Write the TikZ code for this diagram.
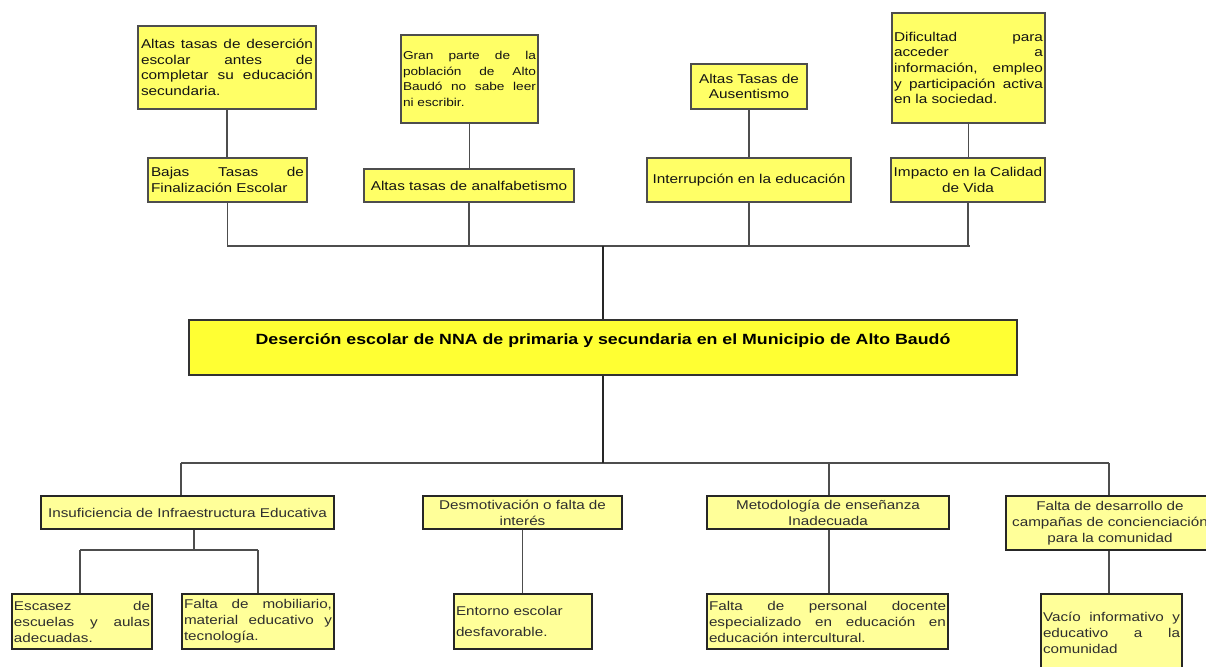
\documentclass[tikz,border=0pt]{standalone}
\usepackage{fontspec}
\setmainfont{Liberation Sans}[FakeStretch=1.2]
\usetikzlibrary{shadows}
\definecolor{topY}{HTML}{FFFF66}
\definecolor{botY}{HTML}{FFFF99}
\definecolor{mainY}{HTML}{FFFF33}
\definecolor{lineG}{HTML}{4D4D4D}
\definecolor{txtT}{HTML}{141414}
\definecolor{txtB}{HTML}{2E2E2E}
\newcommand{\jl}[1]{\makebox[\linewidth][s]{\spaceskip=0.28em plus 1fil\relax #1}}
\tikzset{
  basebox/.style={rectangle, draw=lineG, line width=1.3bp, inner xsep=3bp, inner ysep=0bp,
    drop shadow={shadow xshift=1.3bp, shadow yshift=-1.3bp, fill=black, opacity=0.22}},
  topbox/.style={basebox, fill=topY, text=txtT, font=\fontsize{12.8bp}{15.7bp}\selectfont},
  botbox/.style={basebox, draw=black!85, fill=botY, text=txtB, font=\fontsize{12.7bp}{16bp}\selectfont},
  mainbox/.style={basebox, draw=black!80, line width=1.4bp, fill=mainY, text=black, font=\fontsize{14.8bp}{17bp}\selectfont\bfseries},
  conn/.style={draw=lineG, line width=1.5bp},
}
\begin{document}
\begin{tikzpicture}[x=1bp,y=-1bp]
\fill[white] (0,0) rectangle (1206,667);
\useasboundingbox (0,0) rectangle (1206,667);

% ---------- top boxes ----------
\node[topbox, text width=172bp, minimum height=83bp, align=left] (t1) at (227,67.5)
  {\jl{Altas tasas de deserción}\\\jl{escolar antes de}\\\jl{completar su educación}\\secundaria.};
\node[topbox, text width=133bp, minimum height=88bp, align=left, inner xsep=2bp,
  font=\fontsize{11.4bp}{15.7bp}\selectfont] (t2) at (469.5,79)
  {\jl{Gran parte de la}\\\jl{población de Alto}\\\jl{Baudó no sabe leer}\\ni escribir.};
\node[topbox, text width=153bp, minimum height=44bp, align=left] (t3) at (227.5,180)
  {\jl{Bajas Tasas de}\\Finalización Escolar};
\node[topbox, text width=204bp, minimum height=33bp, align=center] (t4) at (469,185.5)
  {Altas tasas de analfabetismo};
\node[topbox, text width=110bp, minimum height=45bp, align=center] (t5) at (749,86.5)
  {Altas Tasas de\\Ausentismo};
\node[topbox, text width=149bp, minimum height=110bp, align=left, inner xsep=2bp] (t6) at (968.5,68)
  {\jl{Dificultad para}\\\jl{acceder a}\\\jl{información, empleo}\\\jl{y participación activa}\\en la sociedad.};
\node[topbox, text width=198bp, minimum height=44bp, align=center] (t7) at (749,180)
  {Interrupción en la educación};
\node[topbox, text width=150bp, minimum height=44bp, align=center, inner xsep=2bp] (t8) at (968,180)
  {Impacto en la Calidad\\de Vida};

% ---------- main box ----------
\node[mainbox, minimum width=828bp, minimum height=55bp, text height=10.5bp, text depth=16.4bp] (main) at (603,347.5)
  {Deserción escolar de NNA de primaria y secundaria en el Municipio de Alto Baudó};

% ---------- bottom boxes ----------
\node[botbox, text width=287bp, minimum height=33bp, align=center] (b1) at (187.5,512.5)
  {Insuficiencia de Infraestructura Educativa};
\node[botbox, text width=193bp, minimum height=33bp, align=center] (b2) at (522.5,512.5)
  {Desmotivación o falta de\\interés};
\node[botbox, text width=236bp, minimum height=33bp, align=center] (b3) at (828,512.5)
  {Metodología de enseñanza\\Inadecuada};
\node[botbox, text width=202bp, minimum height=54bp, align=center] (b4) at (1110,523)
  {Falta de desarrollo de\\campañas de concienciación\\para la comunidad};
\node[botbox, text width=136bp, minimum height=55bp, align=left, inner xsep=2bp] (s1) at (82,621.5)
  {\jl{Escasez de}\\\jl{escuelas y aulas}\\adecuadas.};
\node[botbox, text width=148bp, minimum height=55bp, align=left, inner xsep=2bp] (s2) at (258,621.5)
  {\jl{Falta de mobiliario,}\\\jl{material educativo y}\\tecnología.};
\node[botbox, text width=134bp, minimum height=55bp, align=left, inner xsep=2bp,
  font=\fontsize{12.7bp}{21bp}\selectfont] (s3) at (523,621.5)
  {Entorno escolar\\desfavorable.};
\node[botbox, text width=237bp, minimum height=55bp, align=left, inner xsep=2bp] (s4) at (827.5,621.5)
  {\jl{Falta de personal docente}\\\jl{especializado en educación en}\\educación intercultural.};
\node[botbox, text width=137bp, minimum height=78bp, align=left, inner xsep=2bp] (s5) at (1111.5,633)
  {\jl{Vacío informativo y}\\\jl{educativo a la}\\comunidad};

% ---------- top connectors ----------
\coordinate (busL) at (227,246);
\coordinate (busR) at (970,246);
\coordinate (busC) at (603,246);
\draw[conn] (busL) -- (busR);
\draw[conn] (t1.south) -- (t1.south |- t3.north);
\draw[conn] (t2.south) -- (t2.south |- t4.north);
\draw[conn] (t5.south) -- (t5.south |- t7.north);
\draw[conn] (t6.south) -- (t6.south |- t8.north);
\draw[conn] (t3.south) -- (t3.south |- busL);
\draw[conn] (t4.south) -- (t4.south |- busL);
\draw[conn] (t7.south) -- (t7.south |- busL);
\draw[conn] (t8.south) -- (t8.south |- busL);
\draw[conn, draw=black!85, line width=1.1bp] (busC) -- (busC |- main.north);

% ---------- bottom connectors ----------
\coordinate (bbL) at (181,463);
\coordinate (bbM) at (829,463);
\coordinate (bbR) at (1109,463);
\draw[conn] (bbL) -- (bbR);
\draw[conn, draw=black!85, line width=1.1bp] (main.south) -- (main.south |- bbL);
\draw[conn] (bbL) -- (bbL |- b1.north);
\draw[conn] (bbM) -- (bbM |- b3.north);
\draw[conn] (bbR) -- (bbR |- b4.north);
\coordinate (sj) at (194,550);
\coordinate (sl) at (80,550);
\coordinate (sr) at (258,550);
\draw[conn] (sj |- b1.south) -- (sj);
\draw[conn] (sl) -- (sr);
\draw[conn] (sl) -- (sl |- s1.north);
\draw[conn] (sr) -- (sr |- s2.north);
\draw[conn] (b2.south) -- (b2.south |- s3.north);
\draw[conn] (bbM |- b3.south) -- (bbM |- s4.north);
\draw[conn] (bbR |- b4.south) -- (bbR |- s5.north);
\end{tikzpicture}
\end{document}
